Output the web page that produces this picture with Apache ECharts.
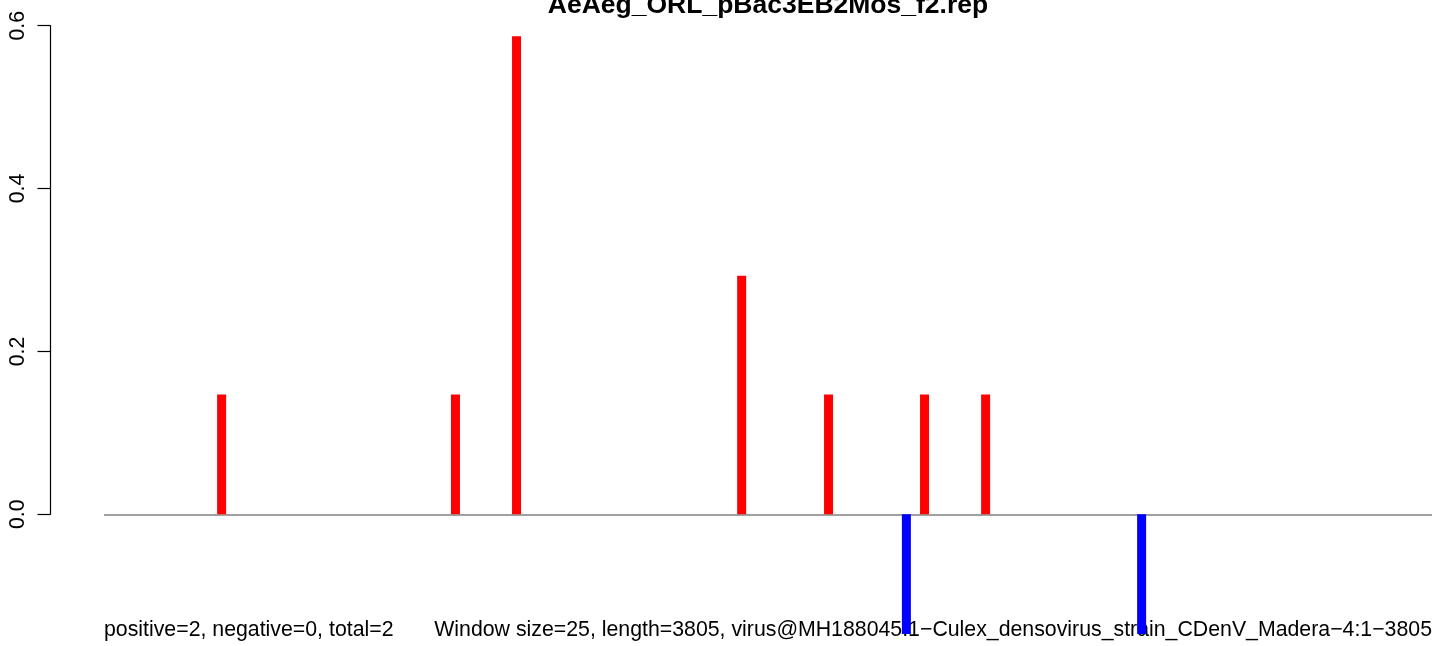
<!DOCTYPE html>
<html>
<head>
<meta charset="utf-8">
<script src="https://cdn.jsdelivr.net/npm/echarts@6/dist/echarts.min.js"></script>
<style>html,body{margin:0;padding:0;background:#fff;}#c{width:1444px;height:646px;}</style>
</head>
<body>
<div id="c"></div>
<script>
var titleText = "AeAeg_ORL_pBac3EB2Mos_f2.rep";
var leftNote = "positive=2, negative=0, total=2";
var rightNote = "Window size=25, length=3805, virus@MH188045.1\u2212Culex_densovirus_strain_CDenV_Madera\u22124:1\u22123805";
var seqLength = 3805;
var yTicks = [0, 0.2, 0.4, 0.6];
var redPos = [337, 1007, 1182, 1827, 2076, 2351, 2526];
var redVal = [0.147, 0.147, 0.587, 0.293, 0.147, 0.147, 0.147];
var bluePos = [2299, 2973];
var blueVal = [-0.147, -0.147];

var FONT = "'Liberation Sans', Arial, Helvetica, sans-serif";
var chart = echarts.init(document.getElementById('c'), null, {renderer: 'canvas'});
var redData = redPos.map(function (p, i) { return [p, redVal[i]]; });
var blueData = bluePos.map(function (p, i) { return [p, blueVal[i]]; });

chart.setOption({
  animation: false,
  backgroundColor: '#ffffff',
  title: [
    {text: titleText, left: 768, textAlign: 'center', top: -8, padding: 0, z: 1,
     textStyle: {fontFamily: FONT, fontWeight: 'bold', fontSize: 26.5, lineHeight: 26.5, color: '#000'}},
    {text: leftNote, left: 104, top: 619, padding: 0, z: 1,
     textStyle: {fontFamily: FONT, fontWeight: 'normal', fontSize: 21.3, lineHeight: 21.3, color: '#000'}},
    {text: rightNote, right: 12, top: 619, padding: 0, z: 1,
     textStyle: {fontFamily: FONT, fontWeight: 'normal', fontSize: 21.3, lineHeight: 21.3, color: '#000'}}
  ],
  grid: [
    {left: 104, right: 12, top: 25.7, height: 620.3, containLabel: false},
    {left: 50.5, right: 12, top: 25.7, height: 488.6, containLabel: false}
  ],
  xAxis: [
    {gridIndex: 0, type: 'value', min: 0, max: seqLength, show: false},
    {gridIndex: 1, type: 'value', min: 0, max: seqLength, show: false}
  ],
  yAxis: [
    {gridIndex: 0, type: 'value', min: -0.1617, max: 0.6, show: false},
    {gridIndex: 1, type: 'value', min: yTicks[0], max: yTicks[yTicks.length - 1], interval: 0.2,
     axisLine: {show: true, lineStyle: {color: '#000', width: 1.2}},
     axisTick: {show: true, length: 13, lineStyle: {color: '#000', width: 1.2}},
     splitLine: {show: false},
     axisLabel: {show: true, rotate: 90, margin: 22, color: '#000', fontFamily: FONT, fontSize: 21.3,
       formatter: function (v) { return v.toFixed(1); }}
    }
  ],
  series: [
    {type: 'bar', xAxisIndex: 0, yAxisIndex: 0, data: redData, barWidth: 9, z: 3,
     itemStyle: {color: '#ff0000'}, silent: true,
     markLine: {symbol: 'none', silent: true, label: {show: false}, z: 2,
       lineStyle: {color: '#a0a0a0', width: 2, type: 'solid'},
       data: [{yAxis: 0}]}},
    {type: 'bar', xAxisIndex: 0, yAxisIndex: 0, data: blueData, barWidth: 9, barGap: '-100%', z: 3,
     itemStyle: {color: '#0000ff'}, silent: true}
  ]
});
</script>
</body>
</html>
